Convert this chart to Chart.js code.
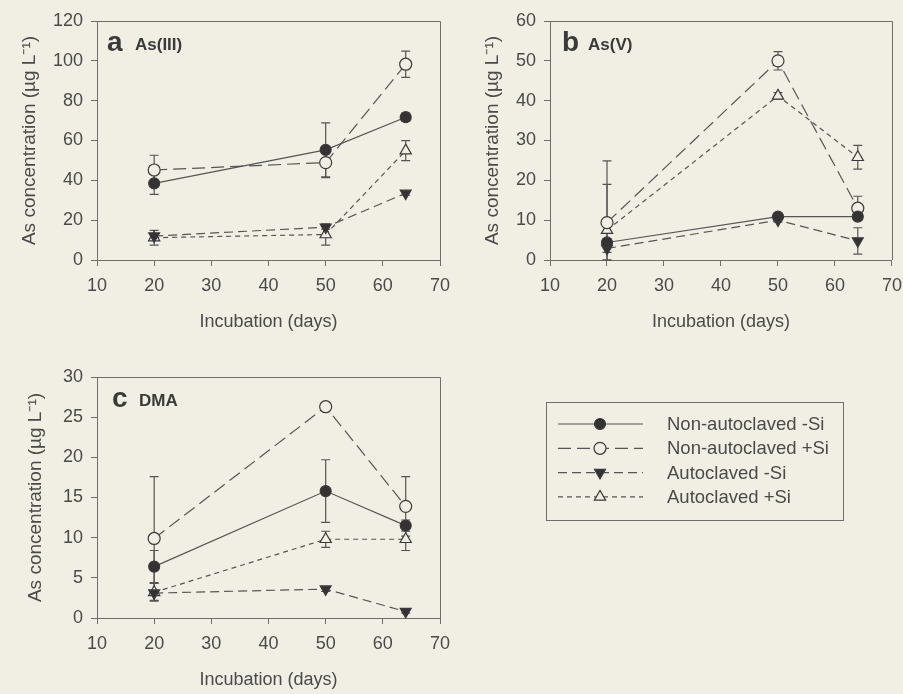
<!DOCTYPE html>
<html>
<head>
<meta charset="utf-8">
<script src="https://cdn.jsdelivr.net/npm/chart.js"></script>
<style>
  html, body { margin: 0; padding: 0; background: #f1efe4; overflow: hidden; }
  #wrap { position: relative; width: 903px; height: 694px; overflow: hidden; }
  canvas { position: absolute; left: 0; top: 0; }
</style>
</head>
<body>
<div id="wrap">
  <canvas id="chartA" width="903" height="694"></canvas>
  <canvas id="chartB" width="911" height="694"></canvas>
  <canvas id="chartC" width="903" height="694"></canvas>
</div>
<script>
const days = [20, 50, 64];
const seriesLabels = ["Non-autoclaved -Si", "Non-autoclaved +Si", "Autoclaved -Si", "Autoclaved +Si"];
const xTicks = [10, 20, 30, 40, 50, 60, 70];

// a  As(III)
const asIIINonAutoNoSi = [38.5, 55.3, 71.7];
const asIIINonAutoNoSiSd = [5.5, 13.5, 2.0];
const asIIINonAutoSi = [45.2, 48.9, 98.3];
const asIIINonAutoSiSd = [7.4, 7.5, 6.6];
const asIIIAutoNoSi = [12.0, 16.5, 33.5];
const asIIIAutoNoSiSd = [1.0, 1.0, 1.0];
const asIIIAutoSi = [11.2, 12.8, 54.9];
const asIIIAutoSiSd = [3.7, 5.3, 5.0];

// b  As(V)
const asVNonAutoNoSi = [4.4, 10.9, 10.9];
const asVNonAutoNoSiSd = [1.0, 0.5, 0.8];
const asVNonAutoSi = [9.4, 50.0, 13.0];
const asVNonAutoSiSd = [15.5, 2.3, 3.0];
const asVAutoNoSi = [2.9, 10.0, 4.8];
const asVAutoNoSiSd = [1.0, 0.5, 3.3];
const asVAutoSi = [7.5, 41.2, 25.8];
const asVAutoSiSd = [11.5, 0.8, 3.0];

// c  DMA
const dmaNonAutoNoSi = [6.4, 15.8, 11.5];
const dmaNonAutoNoSiSd = [2.0, 3.9, 0.7];
const dmaNonAutoSi = [9.9, 26.3, 13.9];
const dmaNonAutoSiSd = [7.7, 0.3, 3.7];
const dmaAutoNoSi = [3.1, 3.6, 0.8];
const dmaAutoNoSiSd = [0.3, 0.3, 0.2];
const dmaAutoSi = [3.2, 9.8, 9.8];
const dmaAutoSiSd = [1.1, 1.0, 1.4];

const paper = "#f1efe4";
const ink = "#4a4a4a";
const axisColor = "#6e6e6e";
const lineColor = "#555555";
const fontFamily = '"Liberation Sans", Arial, Helvetica, sans-serif';

Chart.defaults.font.family = fontFamily;
Chart.defaults.font.size = 18;
Chart.defaults.color = ink;

const looks = [
  { dash: [], style: "circle", rot: 0, r: 5.5, fill: "#333333" },
  { dash: [13, 6], style: "circle", rot: 0, r: 6, fill: paper },
  { dash: [9, 5], style: "triangle", rot: 180, r: 6.3, fill: "#333333" },
  { dash: [5, 4], style: "triangle", rot: 0, r: 6.5, fill: paper },
];

function buildDatasets(values, sds) {
  return values.map((vals, k) => ({
    label: seriesLabels[k],
    data: days.map((d, i) => ({ x: d, y: vals[i] })),
    sd: sds[k],
    borderColor: lineColor,
    borderWidth: 1.2,
    borderDash: looks[k].dash,
    pointStyle: looks[k].style,
    pointRotation: looks[k].rot,
    pointRadius: looks[k].r,
    pointBackgroundColor: looks[k].fill,
    pointBorderColor: "#3a3a3a",
    pointBorderWidth: 1.2,
    tension: 0,
    clip: false,
  }));
}

const errorBars = {
  id: "errorBars",
  beforeDatasetsDraw(chart) {
    const { ctx, scales: { x, y } } = chart;
    ctx.save();
    ctx.strokeStyle = lineColor;
    ctx.lineWidth = 1.2;
    chart.data.datasets.forEach(ds => {
      ds.data.forEach((p, i) => {
        const sd = ds.sd[i];
        const px = x.getPixelForValue(p.x);
        const top = y.getPixelForValue(p.y + sd);
        const bot = y.getPixelForValue(Math.max(p.y - sd, 0));
        ctx.beginPath();
        ctx.moveTo(px, top); ctx.lineTo(px, bot);
        ctx.moveTo(px - 4.5, top); ctx.lineTo(px + 4.5, top);
        ctx.moveTo(px - 4.5, bot); ctx.lineTo(px + 4.5, bot);
        ctx.stroke();
      });
    });
    ctx.restore();
  }
};

// top and right sides of the box
const frame = {
  id: "frame",
  beforeDatasetsDraw(chart) {
    const { ctx, chartArea: a } = chart;
    ctx.save();
    ctx.strokeStyle = axisColor;
    ctx.lineWidth = 1;
    ctx.beginPath();
    ctx.moveTo(a.left, a.top + 0.5);
    ctx.lineTo(a.right + 0.5, a.top + 0.5);
    ctx.lineTo(a.right + 0.5, a.bottom);
    ctx.stroke();
    ctx.restore();
  }
};

const panelTag = {
  id: "panelTag",
  afterDraw(chart, args, opts) {
    const { ctx, chartArea } = chart;
    ctx.save();
    ctx.fillStyle = "#3a3a3a";
    ctx.textBaseline = "alphabetic";
    ctx.font = "bold 28px " + fontFamily;
    ctx.fillText(opts.letter, chartArea.left + opts.letterX, chartArea.top + 30);
    ctx.font = "bold 17px " + fontFamily;
    ctx.fillText(opts.title, chartArea.left + opts.titleX, chartArea.top + 29);
    ctx.restore();
  }
};

const boxLegend = {
  id: "boxLegend",
  afterDraw(chart, args, opts) {
    if (!opts.show) return;
    const { ctx } = chart;
    ctx.save();
    ctx.strokeStyle = axisColor;
    ctx.lineWidth = 1;
    ctx.strokeRect(opts.left + 0.5, opts.top + 0.5, opts.width, opts.height);
    chart.data.datasets.forEach((ds, i) => {
      const y = opts.top + opts.firstRow + i * opts.rowGap;
      ctx.strokeStyle = lineColor;
      ctx.lineWidth = 1.2;
      ctx.setLineDash(ds.borderDash);
      ctx.beginPath();
      ctx.moveTo(opts.left + 12, y);
      ctx.lineTo(opts.left + 97, y);
      ctx.stroke();
      ctx.setLineDash([]);
      ctx.fillStyle = ds.pointBackgroundColor;
      ctx.strokeStyle = ds.pointBorderColor;
      ctx.lineWidth = ds.pointBorderWidth;
      Chart.helpers.drawPoint(ctx, {
        pointStyle: ds.pointStyle,
        rotation: ds.pointRotation,
        radius: ds.pointRadius,
        borderWidth: ds.pointBorderWidth,
      }, opts.left + 54, y);
      ctx.fillStyle = ink;
      ctx.font = "18.5px " + fontFamily;
      ctx.textBaseline = "middle";
      ctx.fillText(ds.label, opts.left + 121, y + 1);
    });
    ctx.restore();
  }
};

function makePanel(id, values, sds, yMax, yStep, pad, yTitlePad, tag, legend) {
  new Chart(document.getElementById(id), {
    type: "line",
    data: { datasets: buildDatasets(values, sds) },
    plugins: [frame, errorBars, panelTag, boxLegend],
    options: {
      responsive: false,
      animation: false,
      devicePixelRatio: 1,
      layout: { padding: pad },
      plugins: {
        legend: { display: false },
        tooltip: { enabled: false },
        panelTag: tag,
        boxLegend: legend || { show: false },
      },
      scales: {
        x: {
          type: "linear",
          min: 10,
          max: 70,
          afterBuildTicks: s => { s.ticks = xTicks.map(v => ({ value: v })); },
          afterFit: s => { s.height = 73; },
          ticks: { autoSkip: false, maxRotation: 0, padding: 9, color: ink },
          grid: { drawOnChartArea: false, drawTicks: true, tickLength: 6, color: axisColor },
          border: { display: true, color: axisColor },
          title: { display: true, text: "Incubation (days)", color: ink, padding: { top: 0, bottom: 0 } },
        },
        y: {
          min: 0,
          max: yMax,
          afterFit: s => { s.width = 80; },
          ticks: { stepSize: yStep, padding: 8, color: ink },
          grid: { drawOnChartArea: false, drawTicks: true, tickLength: 6, color: axisColor },
          border: { display: true, color: axisColor },
          title: { display: true, text: "As concentration (µg L⁻¹)", color: ink, font: { size: 19 }, padding: { top: yTitlePad, bottom: 0 } },
        },
      },
    },
  });
}

makePanel("chartA",
  [asIIINonAutoNoSi, asIIINonAutoSi, asIIIAutoNoSi, asIIIAutoSi],
  [asIIINonAutoNoSiSd, asIIINonAutoSiSd, asIIIAutoNoSiSd, asIIIAutoSiSd],
  120, 20, { left: 17, top: 21, right: 463, bottom: 361 }, 1,
  { letter: "a", title: "As(III)", letterX: 10, titleX: 38 });

makePanel("chartB",
  [asVNonAutoNoSi, asVNonAutoSi, asVAutoNoSi, asVAutoSi],
  [asVNonAutoNoSiSd, asVNonAutoSiSd, asVAutoNoSiSd, asVAutoSiSd],
  60, 10, { left: 470, top: 21, right: 19, bottom: 361 }, 11,
  { letter: "b", title: "As(V)", letterX: 12, titleX: 38 });

makePanel("chartC",
  [dmaNonAutoNoSi, dmaNonAutoSi, dmaAutoNoSi, dmaAutoSi],
  [dmaNonAutoNoSiSd, dmaNonAutoSiSd, dmaAutoNoSiSd, dmaAutoSiSd],
  30, 5, { left: 17, top: 377, right: 463, bottom: 3 }, 7,
  { letter: "c", title: "DMA", letterX: 15, titleX: 42 },
  { show: true, left: 546, top: 402, width: 297, height: 118, firstRow: 22, rowGap: 24.3 });
</script>
</body>
</html>
